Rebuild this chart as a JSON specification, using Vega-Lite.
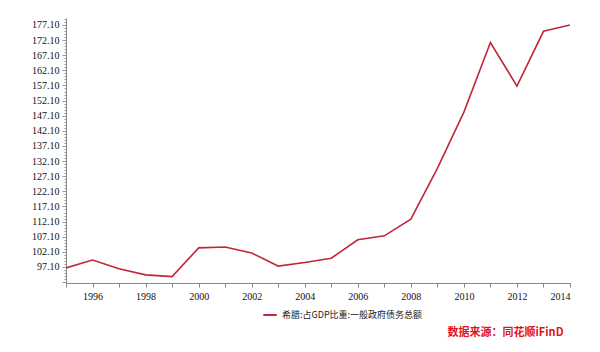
{
  "$schema": "https://vega.github.io/schema/vega-lite/v6.json",
  "autosize": {"type": "none"},
  "width": 504,
  "height": 265,
  "padding": {"left": 66, "top": 18, "right": 30, "bottom": 69},
  "background": "white",
  "config": {"view": {"stroke": null}},
  "title": {
    "text": "数据来源：同花顺iFinD",
    "orient": "bottom",
    "anchor": "end",
    "color": "#e0141e",
    "font": "Noto Sans CJK SC",
    "fontSize": 11,
    "fontWeight": "bold",
    "offset": 7,
    "dx": -7
  },
  "data": {
    "values": [
      {"year": 1995, "value": 96.8, "series": "希腊:占GDP比重:一般政府债务总额"},
      {"year": 1996, "value": 99.4, "series": "希腊:占GDP比重:一般政府债务总额"},
      {"year": 1997, "value": 96.5, "series": "希腊:占GDP比重:一般政府债务总额"},
      {"year": 1998, "value": 94.5, "series": "希腊:占GDP比重:一般政府债务总额"},
      {"year": 1999, "value": 93.9, "series": "希腊:占GDP比重:一般政府债务总额"},
      {"year": 2000, "value": 103.4, "series": "希腊:占GDP比重:一般政府债务总额"},
      {"year": 2001, "value": 103.7, "series": "希腊:占GDP比重:一般政府债务总额"},
      {"year": 2002, "value": 101.7, "series": "希腊:占GDP比重:一般政府债务总额"},
      {"year": 2003, "value": 97.4, "series": "希腊:占GDP比重:一般政府债务总额"},
      {"year": 2004, "value": 98.6, "series": "希腊:占GDP比重:一般政府债务总额"},
      {"year": 2005, "value": 100.0, "series": "希腊:占GDP比重:一般政府债务总额"},
      {"year": 2006, "value": 106.1, "series": "希腊:占GDP比重:一般政府债务总额"},
      {"year": 2007, "value": 107.4, "series": "希腊:占GDP比重:一般政府债务总额"},
      {"year": 2008, "value": 112.9, "series": "希腊:占GDP比重:一般政府债务总额"},
      {"year": 2009, "value": 129.7, "series": "希腊:占GDP比重:一般政府债务总额"},
      {"year": 2010, "value": 148.3, "series": "希腊:占GDP比重:一般政府债务总额"},
      {"year": 2011, "value": 171.3, "series": "希腊:占GDP比重:一般政府债务总额"},
      {"year": 2012, "value": 156.9, "series": "希腊:占GDP比重:一般政府债务总额"},
      {"year": 2013, "value": 175.0, "series": "希腊:占GDP比重:一般政府债务总额"},
      {"year": 2014, "value": 177.1, "series": "希腊:占GDP比重:一般政府债务总额"}
    ]
  },
  "mark": {"type": "line", "strokeWidth": 1.6, "clip": true},
  "encoding": {
    "x": {
      "field": "year",
      "type": "quantitative",
      "scale": {"domain": [1995, 2014], "nice": false, "zero": false},
      "axis": {
        "title": null,
        "values": [1995, 1996, 1997, 1998, 1999, 2000, 2001, 2002, 2003, 2004, 2005, 2006, 2007, 2008, 2009, 2010, 2011, 2012, 2013, 2014],
        "labelExpr": "datum.value % 2 == 0 ? format(datum.value, 'd') : ''",
        "grid": false,
        "domainColor": "#888888",
        "tickColor": "#888888",
        "tickSize": 4,
        "labelFont": "Liberation Serif",
        "labelFontSize": 10,
        "labelColor": "#111111",
        "labelPadding": 4
      }
    },
    "y": {
      "field": "value",
      "type": "quantitative",
      "scale": {"domain": [91.8, 179.4], "nice": false, "zero": false},
      "axis": {
        "title": null,
        "values": [92.1, 93.1, 94.1, 95.1, 96.1, 97.1, 98.1, 99.1, 100.1, 101.1, 102.1, 103.1, 104.1, 105.1, 106.1, 107.1, 108.1, 109.1, 110.1, 111.1, 112.1, 113.1, 114.1, 115.1, 116.1, 117.1, 118.1, 119.1, 120.1, 121.1, 122.1, 123.1, 124.1, 125.1, 126.1, 127.1, 128.1, 129.1, 130.1, 131.1, 132.1, 133.1, 134.1, 135.1, 136.1, 137.1, 138.1, 139.1, 140.1, 141.1, 142.1, 143.1, 144.1, 145.1, 146.1, 147.1, 148.1, 149.1, 150.1, 151.1, 152.1, 153.1, 154.1, 155.1, 156.1, 157.1, 158.1, 159.1, 160.1, 161.1, 162.1, 163.1, 164.1, 165.1, 166.1, 167.1, 168.1, 169.1, 170.1, 171.1, 172.1, 173.1, 174.1, 175.1, 176.1, 177.1, 178.1, 179.1],
        "labelExpr": "(abs((datum.value - 97.1) / 5 - round((datum.value - 97.1) / 5)) < 0.01 && datum.value > 96) ? format(datum.value, '.2f') : ''",
        "tickSize": {"condition": {"test": "abs((datum.value - 97.1) / 5 - round((datum.value - 97.1) / 5)) < 0.01", "value": 4}, "value": 2},
        "grid": false,
        "domainColor": "#888888",
        "tickColor": "#999999",
        "labelFont": "Liberation Serif",
        "labelFontSize": 10,
        "labelColor": "#111111",
        "labelPadding": 3
      }
    },
    "color": {
      "field": "series",
      "type": "nominal",
      "scale": {"range": ["#c0273a"]},
      "legend": {
        "title": null,
        "orient": "none",
        "legendX": 196,
        "legendY": 289,
        "symbolType": "stroke",
        "symbolSize": 180,
        "symbolStrokeWidth": 2,
        "labelFont": "Noto Sans CJK SC",
        "labelFontSize": 9,
        "labelColor": "#222222"
      }
    }
  }
}
